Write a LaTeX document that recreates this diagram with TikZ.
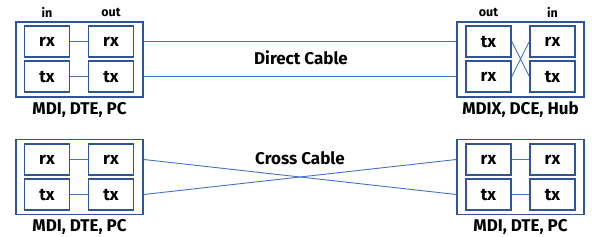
\documentclass[tikz,border=0pt]{standalone}
\usepackage{fontspec}
\setmainfont{Fira Sans}
\usepackage{xcolor}
\definecolor{boxblue}{HTML}{2F5597}
\definecolor{wireblue}{HTML}{4472C4}

\begin{document}
\begin{tikzpicture}[x=1pt, y=-1pt,
  port/.style={draw=boxblue, line width=1.5pt, minimum width=45pt, minimum height=31pt, inner sep=0pt, font=\fontsize{17}{19}\selectfont\bfseries},
  device/.style={draw=boxblue, line width=1.5pt, minimum width=127pt, minimum height=75pt, inner sep=0pt},
  wire/.style={draw=wireblue, line width=0.9pt},
  lbl/.style={font=\fontsize{17}{19}\selectfont\bfseries},
  hdr/.style={font=\fontsize{12.5}{14}\selectfont\bfseries}]
  \useasboundingbox (0,0) rectangle (599,236);
  \node[device] (A) at (79.5,59.5) {};
  \node[port] (Arx1) at (47,41.5) {rx};
  \node[port] (Atx1) at (47,76.5) {tx};
  \node[port] (Arx2) at (111,41.5) {rx};
  \node[port] (Atx2) at (111,76.5) {tx};
  \node[hdr] (Ain) at (47,12) {in};
  \node[hdr] (Aout) at (111,12) {out};
  \node[lbl] (Aname) at (79.5,110) {MDI, DTE, PC};
  \node[device] (B) at (520.5,59.5) {};
  \node[port] (Btx1) at (488.5,41.5) {tx};
  \node[port] (Brx1) at (488.5,76.5) {rx};
  \node[port] (Brx2) at (552.5,41.5) {rx};
  \node[port] (Btx2) at (552.5,76.5) {tx};
  \node[hdr] (Bout) at (488.5,12) {out};
  \node[hdr] (Bin) at (552.5,12) {in};
  \node[lbl] (Bname) at (520.5,110) {MDIX, DCE, Hub};
  \node[device] (C) at (79.5,177) {};
  \node[port] (Crx1) at (47,159.5) {rx};
  \node[port] (Ctx1) at (47,194.5) {tx};
  \node[port] (Crx2) at (111,159.5) {rx};
  \node[port] (Ctx2) at (111,194.5) {tx};
  \node[lbl] (Cname) at (79.5,227) {MDI, DTE, PC};
  \node[device] (D) at (520.5,177) {};
  \node[port] (Drx1) at (488.5,159.5) {rx};
  \node[port] (Dtx1) at (488.5,194.5) {tx};
  \node[port] (Drx2) at (552.5,159.5) {rx};
  \node[port] (Dtx2) at (552.5,194.5) {tx};
  \node[lbl] (Dname) at (520.5,227) {MDI, DTE, PC};
  \node[lbl] (direct) at (301,58) {Direct Cable};
  \node[lbl] (cross) at (300,158) {Cross Cable};
  \draw[wire] (Arx1) -- (Arx2) (Atx1) -- (Atx2);
  \draw[wire] (Btx1.east) -- (Btx2.west) (Brx1.east) -- (Brx2.west);
  \draw[wire] (Crx1) -- (Crx2) (Ctx1) -- (Ctx2);
  \draw[wire] (Drx1) -- (Drx2) (Dtx1) -- (Dtx2);
  \draw[wire] (A.east |- Arx2.east) -- (B.west |- Btx1.west);
  \draw[wire] (A.east |- Atx2.east) -- (B.west |- Brx1.west);
  \draw[wire] (C.east |- Crx2.east) -- (D.west |- Dtx1.west);
  \draw[wire] (C.east |- Ctx2.east) -- (D.west |- Drx1.west);
\end{tikzpicture}
\end{document}
